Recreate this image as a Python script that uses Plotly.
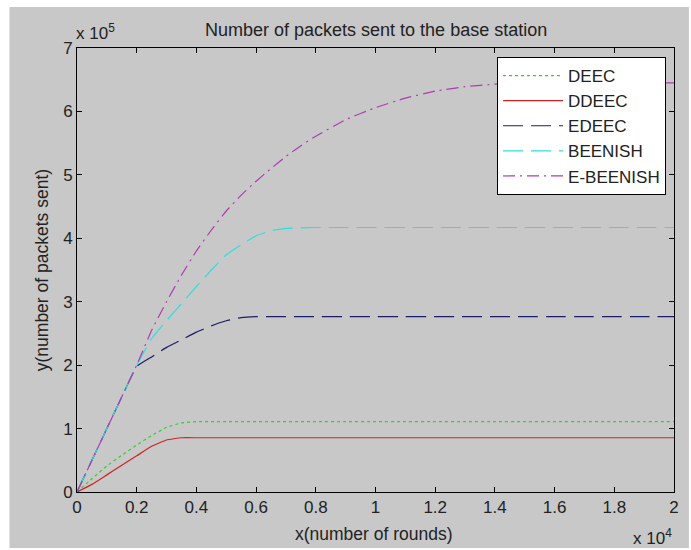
import plotly.graph_objects as go

# ---- data (rounds, packets) ----
rounds = [0, 500, 1000, 1500, 2000, 2500, 3000, 3500, 4000, 4500, 5000, 5500, 6000,
          6500, 7000, 7500, 8000, 9000, 10000, 11000, 12000, 13000, 14000, 15000,
          16000, 17000, 18000, 19000, 20000]

deec = [0, 0.21, 0.41, 0.58, 0.74, 0.89, 1.02, 1.09, 1.11, 1.11, 1.11, 1.11, 1.11,
        1.11, 1.11, 1.11, 1.11, 1.11, 1.11, 1.11, 1.11, 1.11, 1.11, 1.11,
        1.11, 1.11, 1.11, 1.11, 1.11]
ddeec = [0, 0.12, 0.27, 0.42, 0.57, 0.72, 0.82, 0.855, 0.855, 0.855, 0.855, 0.855, 0.855,
         0.855, 0.855, 0.855, 0.855, 0.855, 0.855, 0.855, 0.855, 0.855, 0.855, 0.855,
         0.855, 0.855, 0.855, 0.855, 0.855]
edeec = [0, 0.5, 1.0, 1.5, 1.98, 2.13, 2.28, 2.40, 2.52, 2.62, 2.70, 2.75, 2.765,
         2.765, 2.765, 2.765, 2.765, 2.765, 2.765, 2.765, 2.765, 2.765, 2.765, 2.765,
         2.765, 2.765, 2.765, 2.765, 2.765]
beenish = [0, 0.5, 1.0, 1.5, 2.0, 2.42, 2.70, 2.97, 3.24, 3.50, 3.74, 3.90, 4.04,
           4.12, 4.155, 4.165, 4.17, 4.17, 4.17, 4.17, 4.17, 4.17, 4.17, 4.17,
           4.17, 4.17, 4.17, 4.17, 4.17]
ebeenish = [0, 0.5, 1.0, 1.5, 2.0, 2.55, 3.0, 3.42, 3.80, 4.13, 4.43, 4.68, 4.90,
            5.10, 5.29, 5.46, 5.61, 5.87, 6.06, 6.21, 6.32, 6.39, 6.43, 6.45,
            6.45, 6.45, 6.45, 6.45, 6.45]

names = ["DEEC", "DDEEC", "EDEEC", "BEENISH", "E-BEENISH"]
series = [deec, ddeec, edeec, beenish, ebeenish]
colors = ["#2fd02f", "#d02424", "#1c1c66", "#30dede", "#b03cb0"]
dashes = ["3px,3px", "solid", "20px,8px", "20px,8px", "12px,5px,2px,5px"]

x_ticks = [0, 2000, 4000, 6000, 8000, 10000, 12000, 14000, 16000, 18000, 20000]
x_ticktext = ["0", "0.2", "0.4", "0.6", "0.8", "1", "1.2", "1.4", "1.6", "1.8", "2"]
y_ticks = [0, 1e5, 2e5, 3e5, 4e5, 5e5, 6e5, 7e5]
y_ticktext = ["0", "1", "2", "3", "4", "5", "6", "7"]

FONT = "Liberation Sans, Arial, sans-serif"
TXT = "#222222"
W, H = 691, 550
L, R, T, B = 77, 678, 48, 492   # plot area pixel box


def px(xp):
    return (xp - L) / (R - L)


def py(yp):
    return (B - yp) / (B - T)


fig = go.Figure()
for nm, s, c, d in zip(names, series, colors, dashes):
    fig.add_trace(go.Scatter(
        x=rounds, y=[v * 1e5 for v in s], name=nm, mode="lines",
        line=dict(color=c, width=1.2, dash=d, shape="spline", smoothing=0.3),
    ))

axis_common = dict(
    showline=True, linecolor="black", linewidth=1, mirror="ticks",
    ticks="inside", ticklen=5, tickcolor="black", tickwidth=1,
    showgrid=False, zeroline=False,
    tickfont=dict(family=FONT, size=17, color=TXT),
)

fig.update_layout(
    width=W, height=H,
    margin=dict(l=L, r=W - R, t=T, b=H - B, pad=0),
    paper_bgcolor="white", plot_bgcolor="white",
    showlegend=True,
    legend=dict(
        x=px(670), y=py(57), xanchor="right", yanchor="top",
        bgcolor="white", bordercolor="black", borderwidth=1,
        font=dict(family=FONT, size=17, color=TXT),
        itemwidth=60, tracegroupgap=0,
    ),
    xaxis=dict(range=[0, 20000], tickvals=x_ticks, ticktext=x_ticktext, **axis_common),
    yaxis=dict(range=[0, 7e5], tickvals=y_ticks, ticktext=y_ticktext, **axis_common),
    shapes=[dict(type="rect", xref="paper", yref="paper",
                 x0=px(9), x1=px(W + 2), y0=py(548), y1=py(7),
                 fillcolor="#c8c8c8", line=dict(width=0), layer="below")],
    annotations=[
        dict(text="Number of packets sent to the base station", xref="paper", yref="paper",
             x=px(378), y=py(30), xanchor="center", yanchor="middle", showarrow=False,
             font=dict(family=FONT, size=18, color=TXT)),
        dict(text="x(number of rounds)", xref="paper", yref="paper",
             x=px(376), y=py(534), xanchor="center", yanchor="middle", showarrow=False,
             font=dict(family=FONT, size=17.5, color=TXT)),
        dict(text="y(number of packets sent)", xref="paper", yref="paper",
             x=px(42), y=py(270), xanchor="center", yanchor="middle", showarrow=False,
             textangle=-90, font=dict(family=FONT, size=17.5, color=TXT)),
        dict(text="x 10<sup>4</sup>", xref="paper", yref="paper",
             x=px(656), y=py(537), xanchor="center", yanchor="middle", showarrow=False,
             font=dict(family=FONT, size=17, color=TXT)),
        dict(text="x 10<sup>5</sup>", xref="paper", yref="paper",
             x=px(96), y=py(32), xanchor="center", yanchor="middle", showarrow=False,
             font=dict(family=FONT, size=17, color=TXT)),
    ],
)

fig.write_html("out.html")
